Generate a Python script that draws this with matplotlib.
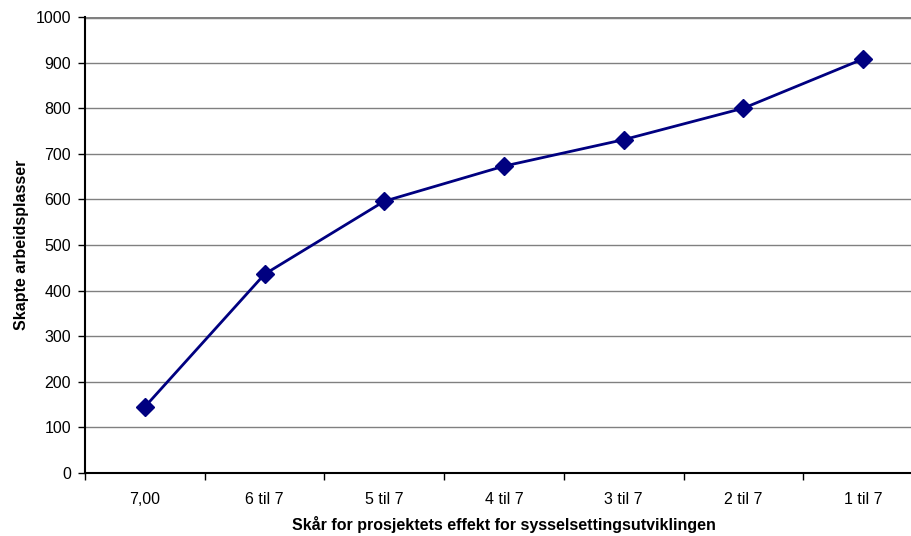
import matplotlib
matplotlib.use('Agg')
import matplotlib.pyplot as plt

categories = ['7,00', '6 til 7', '5 til 7', '4 til 7', '3 til 7', '2 til 7', '1 til 7']
jobs = [145, 436, 596, 673, 731, 800, 908]
y_ticks = [0, 100, 200, 300, 400, 500, 600, 700, 800, 900, 1000]

plt.rcParams['font.family'] = ['Liberation Sans', 'DejaVu Sans']

fig = plt.figure(figsize=(9.11, 5.36), dpi=100)
ax = fig.add_axes([85 / 911, 63 / 536, 838 / 911, 456 / 536])

x = list(range(len(categories)))
ax.plot(x, jobs, color='#000080', linewidth=2, marker='D', markersize=9,
        markerfacecolor='#000080', markeredgecolor='#000080', zorder=3)

ax.set_xlim(-0.5, len(categories) - 0.5)
ax.set_ylim(0, 1000)
ax.set_yticks(y_ticks)
ax.set_yticklabels([str(v) for v in y_ticks], fontsize=11.5)
ax.set_xticks(x)
ax.set_xticklabels(categories, fontsize=11.5)
ax.tick_params(axis='x', length=0, pad=14)
ax.set_xticks([i - 0.5 for i in x] + [len(categories) - 0.5], minor=True)
ax.tick_params(axis='x', which='minor', length=5, width=1, direction='out')
ax.tick_params(axis='y', length=5, width=1, direction='out', pad=5)

ax.grid(axis='y', color='#808080', linewidth=1)
ax.set_axisbelow(True)
for side in ['top', 'right']:
    ax.spines[side].set_visible(False)
ax.spines['left'].set_linewidth(1.5)
ax.spines['bottom'].set_linewidth(1.5)
ax.axhline(1000, color='#808080', linewidth=2.5, zorder=1)

ax.set_ylabel('Skapte arbeidsplasser', fontsize=11.5, fontweight='bold', labelpad=5)
ax.set_xlabel('Skår for prosjektets effekt for sysselsettingsutviklingen',
              fontsize=11.5, fontweight='bold', labelpad=6)

fig.savefig('out.png', dpi=100)
